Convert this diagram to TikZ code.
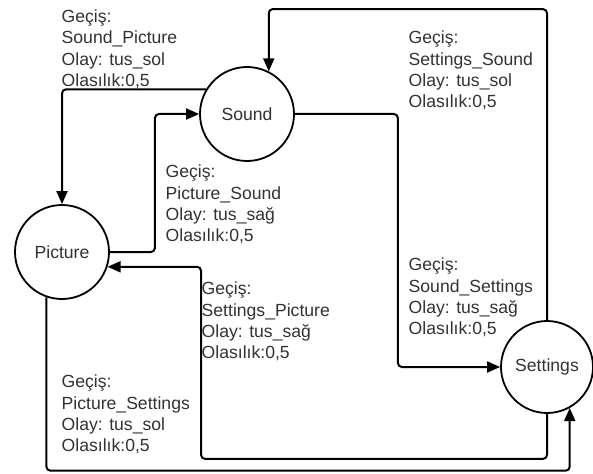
\documentclass[tikz,border=0pt]{standalone}
\usepackage{fontspec}
\setmainfont{Liberation Sans}
\usetikzlibrary{arrows.meta}
\definecolor{txt}{RGB}{50,50,50}
\begin{document}
\begin{tikzpicture}[x=1pt,y=-1pt,
  state/.style={circle,draw=black,line width=1.8pt,fill=white,minimum size=94pt,inner sep=0pt,
    text=txt,font=\fontsize{17.6}{21.3}\selectfont},
  lbl/.style={anchor=north west,inner sep=0pt,align=left,text=txt,
    font=\fontsize{17.6}{21.3}\selectfont},
  arr/.style={line width=2pt,rounded corners=4pt,-{Triangle[length=13pt,width=11pt]}}]
\useasboundingbox (0,0) rectangle (593,473);
\node[state] (Sound) at (247,114) {Sound};
\node[state] (Picture) at (62,252) {Picture};
\node[state,minimum size=92pt] (Settings) at (547,367) {Settings};
% connectors
\draw[arr] (Sound.149) -| (Picture.north);
\draw[arr] (Picture.east) -- ++(45,0) |- (Sound.west);
\draw[arr] (Settings.north) -- ++(0,-311) -| (Sound.63.5);
\draw[arr] (Sound.east) -- ++(103,0) |- (Settings.west);
\draw[arr] (Settings.south) -- ++(0,45) -| ([xshift=93.5pt]Picture.-18.6) -- (Picture.-18.6);
\draw[arr] (Picture.251.4) -- ++(0,173.4) -| (Settings.-61.4);
% labels
\node[lbl] (l1) at (61.5,9.5) {Geçiş:\\Sound\_Picture\\Olay: tus\_sol\\Olasılık:0,5};
\node[lbl] (l2) at (408.5,31) {Geçiş:\\Settings\_Sound\\Olay: tus\_sol\\Olasılık:0,5};
\node[lbl] (l3) at (165.5,165) {Geçiş:\\Picture\_Sound\\Olay: tus\_sağ\\Olasılık:0,5};
\node[lbl] (l4) at (201.5,282) {Geçiş:\\Settings\_Picture\\Olay: tus\_sağ\\Olasılık:0,5};
\node[lbl] (l5) at (61.5,375) {Geçiş:\\Picture\_Settings\\Olay: tus\_sol\\Olasılık:0,5};
\node[lbl] (l6) at (408.5,258) {Geçiş:\\Sound\_Settings\\Olay: tus\_sağ\\Olasılık:0,5};
\end{tikzpicture}
\end{document}
